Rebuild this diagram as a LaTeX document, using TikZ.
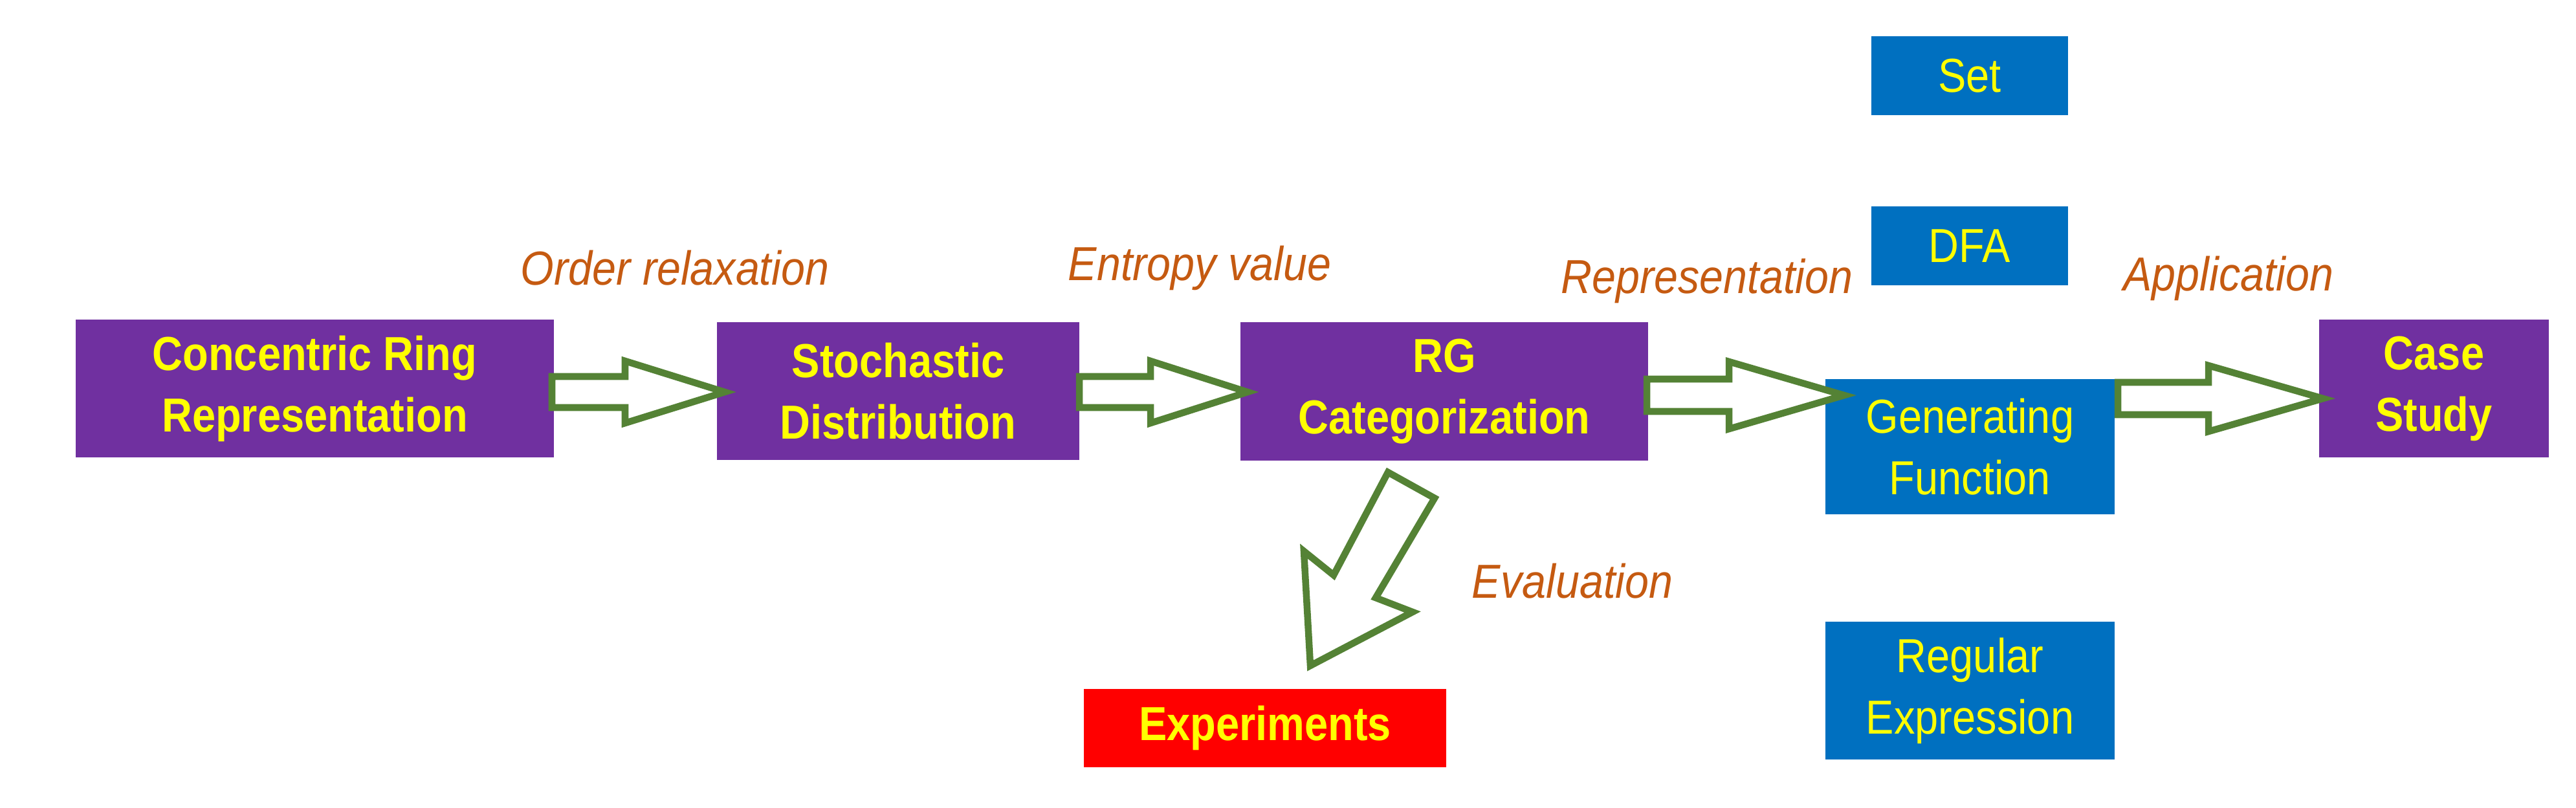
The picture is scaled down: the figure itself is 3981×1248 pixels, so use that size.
\documentclass[tikz,border=0pt]{standalone}
\usepackage{fontspec}
\setmainfont{Liberation Sans}
\usetikzlibrary{calc}
\definecolor{pur}{HTML}{7030A0}
\definecolor{blu}{HTML}{0070C0}
\definecolor{grn}{HTML}{548235}
\definecolor{org}{HTML}{C55A11}
\definecolor{yel}{HTML}{FFFF00}
\tikzset{
  box/.style={inner sep=0pt,align=center,text=yel,font=\fontsize{21}{25}\selectfont\bfseries},
  pbox/.style={box,fill=pur},
  bbox/.style={box,fill=blu,font=\fontsize{21}{25}\selectfont},
  rbox/.style={box,fill=red},
  lab/.style={text=org,font=\fontsize{21}{25}\selectfont\itshape,inner sep=0pt},
  hollow/.style={draw=grn,line width=3pt,fill=white,line join=miter}
}
\newcommand\rbx[6]{\node[#1,minimum width={(#4-#2)*0.1mm},minimum height={(#5-#3)*0.1mm}] (#6) at ({(#2+#4)/2},{-(#3+#5)/2})}
% hollow arrow: start node, y, shaft start x, head base x, tip x, shaft half, head half
\newcommand\hol[7]{\draw[hollow] (#3,{-#2+#6}) -- (#4,{-#2+#6}) -- (#4,{-#2+#7}) -- (#5,-#2) -- (#4,{-#2-#7}) -- (#4,{-#2-#6}) -- (#3,{-#2-#6}) -- cycle;}
\begin{document}
\begin{tikzpicture}[x=0.1mm,y=0.1mm]
\useasboundingbox (0,0) rectangle (3981,-1248);
\rbx{pbox}{117}{494}{856}{707}{cr}{\scalebox{0.88}[1]{Concentric Ring}\\[2pt]\scalebox{0.88}[1]{Representation}};
\rbx{pbox}{1108}{498}{1668}{711}{sd}{\scalebox{0.88}[1]{Stochastic}\\[2pt]\scalebox{0.88}[1]{Distribution}};
\rbx{pbox}{1917}{498}{2547}{712}{rg}{\scalebox{0.88}[1]{RG}\\[2pt]\scalebox{0.88}[1]{Categorization}};
\rbx{bbox}{2892}{56}{3196}{178}{set}{\scalebox{0.88}[1]{Set}};
\rbx{bbox}{2892}{319}{3196}{441}{dfa}{\scalebox{0.88}[1]{DFA}};
\rbx{bbox}{2821}{586}{3268}{795}{gf}{\scalebox{0.88}[1]{Generating}\\[2pt]\scalebox{0.88}[1]{Function}};
\rbx{bbox}{2821}{961}{3268}{1174}{re}{\scalebox{0.88}[1]{Regular}\\[2pt]\scalebox{0.88}[1]{Expression}};
\rbx{pbox}{3584}{494}{3939}{707}{cs}{\scalebox{0.88}[1]{Case}\\[2pt]\scalebox{0.88}[1]{Study}};
\rbx{rbox}{1675}{1065}{2235}{1186}{ex}{\scalebox{0.88}[1]{Experiments}};
\node[lab] (l1) at (1043,-414) {\scalebox{0.9}[1]{Order relaxation}};
\node[lab] (l2) at (1854,-414) {\scalebox{0.9}[1]{Entropy value}};
\node[lab] (l3) at (2638,-434) {\scalebox{0.9}[1]{Representation}};
\node[lab] (l4) at (3444,-430) {\scalebox{0.9}[1]{Application}};
\node[lab] (l5) at (2430,-898) {\scalebox{0.9}[1]{Evaluation}};
\hol{cr}{606}{853}{966}{1120}{24}{48}
\hol{sd}{606}{1668}{1778}{1928}{24}{48}
\hol{rg}{611}{2545}{2672}{2850}{25}{52}
\hol{gf}{616}{3273}{3413}{3590}{25}{51}
\draw[hollow] (2145,-730) -- (2217,-770) -- (2126,-924) -- (2183,-946) -- (2025,-1029) -- (2015,-852) -- (2061,-889) -- cycle;
\end{tikzpicture}
\end{document}
